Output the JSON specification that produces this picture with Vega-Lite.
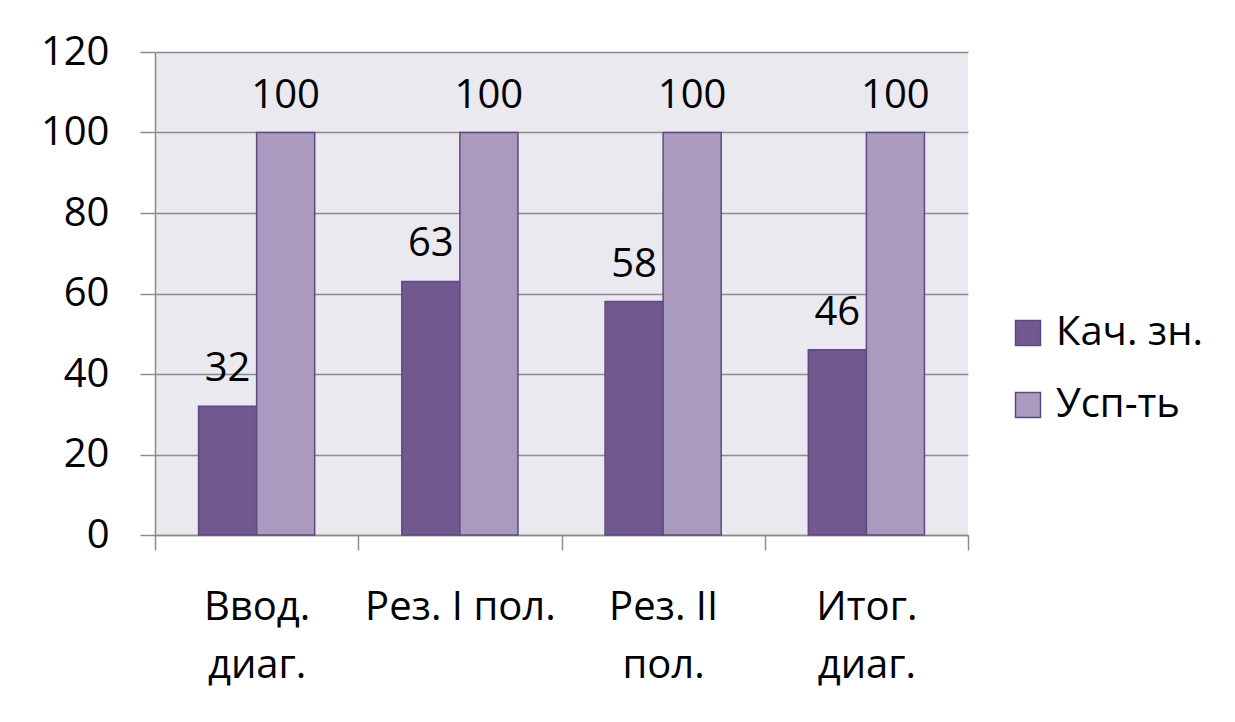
{
  "$schema": "https://vega.github.io/schema/vega-lite/v6.json",
  "autosize": "none",
  "width": 813,
  "height": 483,
  "padding": {"left": 155, "top": 52, "right": 267, "bottom": 187},
  "background": "#ffffff",
  "data": {
    "values": [
      {"cat": "Ввод. диаг.", "series": "Кач. зн.", "value": 32},
      {"cat": "Ввод. диаг.", "series": "Усп-ть", "value": 100},
      {"cat": "Рез. I пол.", "series": "Кач. зн.", "value": 63},
      {"cat": "Рез. I пол.", "series": "Усп-ть", "value": 100},
      {"cat": "Рез. II пол.", "series": "Кач. зн.", "value": 58},
      {"cat": "Рез. II пол.", "series": "Усп-ть", "value": 100},
      {"cat": "Итог. диаг.", "series": "Кач. зн.", "value": 46},
      {"cat": "Итог. диаг.", "series": "Усп-ть", "value": 100}
    ]
  },
  "encoding": {
    "x": {
      "field": "cat", "type": "nominal", "sort": null, "title": null,
      "scale": {"paddingInner": 0, "paddingOuter": 0},
      "axis": {
        "labelAngle": 0,
        "labelFont": "Open Sans", "labelFontSize": 40, "labelColor": "#000000",
        "labelLineHeight": 58, "labelPadding": 37,
        "labelExpr": "datum.value == 'Ввод. диаг.' ? ['Ввод.', 'диаг.'] : datum.value == 'Рез. II пол.' ? ['Рез. II', 'пол.'] : datum.value == 'Итог. диаг.' ? ['Итог.', 'диаг.'] : datum.value",
        "tickBand": "extent", "tickSize": 15, "tickColor": "#8c8c8c", "tickWidth": 1.5,
        "domainColor": "#8c8c8c", "domainWidth": 1.5,
        "labelLimit": 400
      }
    },
    "xOffset": {
      "field": "series", "type": "nominal",
      "scale": {"paddingInner": 0, "paddingOuter": 0.75}
    },
    "y": {
      "field": "value", "type": "quantitative", "title": null,
      "scale": {"domain": [0, 120], "nice": false},
      "axis": {
        "values": [0, 20, 40, 60, 80, 100, 120],
        "labelFont": "Open Sans", "labelFontSize": 40, "labelColor": "#000000",
        "labelPadding": 31, "tickSize": 15, "tickColor": "#8c8c8c", "tickWidth": 1.5,
        "domainColor": "#8c8c8c", "domainWidth": 1.5,
        "grid": true, "gridColor": "#8c8c8c", "gridWidth": 1.5
      }
    }
  },
  "layer": [
    {
      "mark": {"type": "bar", "stroke": "#5e4a80", "strokeWidth": 1.5},
      "encoding": {
        "color": {
          "field": "series", "type": "nominal", "title": null,
          "scale": {"domain": ["Кач. зн.", "Усп-ть"], "range": ["#71588f", "#a99abe"]},
          "legend": {
            "orient": "none", "legendX": 853, "legendY": 261,
            "symbolType": "square", "symbolSize": 625, "symbolStrokeColor": "#5e4a80", "symbolStrokeWidth": 1.5,
            "symbolOpacity": 1,
            "labelFont": "Open Sans", "labelFontSize": 40, "labelColor": "#000000",
            "labelOffset": 8, "rowPadding": 32, "labelLimit": 300
          }
        }
      }
    },
    {
      "mark": {"type": "text", "baseline": "alphabetic", "dy": -25, "font": "Open Sans", "fontSize": 40, "color": "#000000"},
      "encoding": {"text": {"field": "value", "type": "quantitative"}}
    }
  ],
  "config": {
    "view": {"fill": "#ebe9f0", "stroke": null}
  }
}
